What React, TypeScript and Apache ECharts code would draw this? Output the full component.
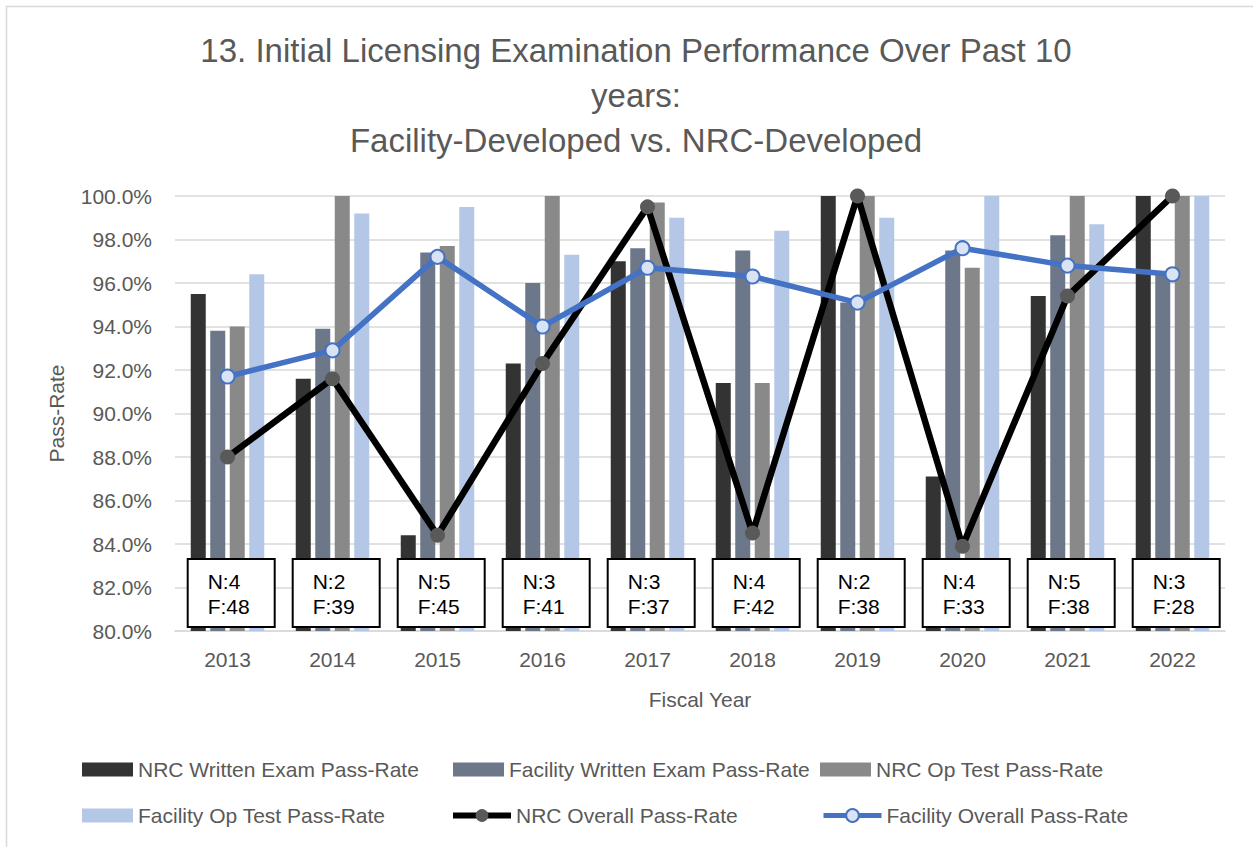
import React, { useEffect, useRef } from "react";
import * as echarts from "echarts";

const years = ["2013", "2014", "2015", "2016", "2017", "2018", "2019", "2020", "2021", "2022"];
const nrcWritten = [95.5, 91.6, 84.4, 92.3, 97.0, 91.4, 100, 87.1, 95.4, 100];
const facWritten = [93.8, 93.9, 97.4, 96.0, 97.6, 97.5, 95.1, 97.5, 98.2, 96.4];
const nrcOp = [94.0, 100, 97.7, 100, 99.7, 91.4, 100, 96.7, 100, 100];
const facOp = [96.4, 99.2, 99.5, 97.3, 99.0, 98.4, 99.0, 100, 98.7, 100];
const nrcOverall = [88.0, 91.6, 84.4, 92.3, 99.5, 84.5, 100, 83.9, 95.4, 100];
const facOverall = [91.7, 92.9, 97.2, 94.0, 96.7, 96.3, 95.1, 97.6, 96.8, 96.4];
const nrcCount = [4, 2, 5, 3, 3, 4, 2, 4, 5, 3];
const facCount = [48, 39, 45, 41, 37, 42, 38, 33, 38, 28];
const boxLevel = 81.75;

const seriesNames = [
  "NRC Written Exam Pass-Rate",
  "Facility Written Exam Pass-Rate",
  "NRC Op Test Pass-Rate",
  "Facility Op Test Pass-Rate",
  "NRC Overall Pass-Rate",
  "Facility Overall Pass-Rate",
];

const FONT = "Liberation Sans";
const TXT = "#595959";

export default function App() {
  const ref = useRef<HTMLDivElement>(null);
  useEffect(() => {
    if (!ref.current) return;
    const chart = echarts.init(ref.current, undefined, { renderer: "svg" });
    const legendText = { color: TXT, fontSize: 21, fontFamily: FONT };
    const legendPos = [
      { name: seriesNames[0], left: 77, top: 754, w: 51, icon: "rect", lw: 0 },
      { name: seriesNames[1], left: 448, top: 754, w: 51, icon: "rect", lw: 0 },
      { name: seriesNames[2], left: 815, top: 754, w: 51, icon: "rect", lw: 0 },
      { name: seriesNames[3], left: 77, top: 800, w: 51, icon: "rect", lw: 0 },
      { name: seriesNames[4], left: 445, top: 800, w: 58, icon: undefined, lw: 6 },
      { name: seriesNames[5], left: 816, top: 800, w: 58, icon: undefined, lw: 5 },
    ];
    const barColors = ["#333333", "#6c7789", "#898989", "#b4c7e7"];
    const barData = [nrcWritten, facWritten, nrcOp, facOp];
    const option: any = {
      animation: false,
      backgroundColor: "#ffffff",
      title: {
        text: "13. Initial Licensing Examination Performance Over Past 10\nyears:\nFacility-Developed vs. NRC-Developed",
        left: 631,
        top: 23,
        textAlign: "center",
        textStyle: {
          color: TXT,
          fontSize: 33,
          fontWeight: "normal",
          fontFamily: FONT,
          lineHeight: 45,
        },
      },
      graphic: [
        {
          type: "rect",
          shape: { x: 6.5, y: 6.5, width: 1300, height: 900 },
          style: { fill: "none", stroke: "#d9d9d9", lineWidth: 1.5 },
          silent: true,
        },
      ],
      legend: legendPos.map((l) => {
        const o: any = {
          data: [l.name],
          left: l.left,
          top: l.top,
          itemWidth: l.w,
          itemHeight: l.icon ? 14 : 16,
          itemGap: 0,
          textStyle: legendText,
        };
        if (l.icon) o.icon = l.icon;
        else o.lineStyle = { width: l.lw };
        return o;
      }),
      grid: { left: 175, right: 28, top: 196, bottom: 216 },
      xAxis: {
        type: "category",
        data: years,
        name: "Fiscal Year",
        nameLocation: "middle",
        nameGap: 58,
        nameTextStyle: { color: TXT, fontSize: 21, fontFamily: FONT, verticalAlign: "top" },
        axisLine: { show: true, lineStyle: { color: "#d9d9d9", width: 1.5 } },
        axisTick: { show: false },
        axisLabel: { color: TXT, fontSize: 21, fontFamily: FONT, margin: 18 },
      },
      yAxis: {
        type: "value",
        min: 80,
        max: 100,
        interval: 2,
        name: "Pass-Rate",
        nameLocation: "middle",
        nameGap: 108,
        nameRotate: 90,
        nameTextStyle: { color: TXT, fontSize: 21, fontFamily: FONT },
        axisLine: { show: false },
        axisTick: { show: false },
        splitLine: { lineStyle: { color: "#d9d9d9", width: 1.5 } },
        axisLabel: {
          color: TXT,
          fontSize: 21,
          fontFamily: FONT,
          margin: 23,
          formatter: (v: number) => v.toFixed(1) + "%",
        },
      },
      series: [
        ...barData.map((d, i) => ({
          name: seriesNames[i],
          type: "bar",
          data: d,
          barWidth: 15,
          barGap: "30%",
          itemStyle: { color: barColors[i] },
          emphasis: { disabled: true },
          z: 2,
        })),
        {
          name: seriesNames[4],
          type: "line",
          data: nrcOverall,
          symbol: "circle",
          symbolSize: 15,
          lineStyle: { color: "#000000", width: 6.5 },
          itemStyle: { color: "#595959", borderColor: "#595959", borderWidth: 0 },
          emphasis: { disabled: true },
          z: 3,
        },
        {
          name: seriesNames[5],
          type: "line",
          data: facOverall,
          symbol: "circle",
          symbolSize: 14,
          lineStyle: { color: "#4472c4", width: 5.5 },
          itemStyle: { color: "#dae3f3", borderColor: "#4472c4", borderWidth: 2 },
          emphasis: { disabled: true },
          z: 4,
        },
        {
          name: "counts",
          type: "scatter",
          data: years.map(() => boxLevel),
          symbolSize: 1,
          z: 10,
          silent: true,
          itemStyle: { color: "transparent", opacity: 1 },
          emphasis: { disabled: true },
          label: {
            show: true,
            position: "inside",
            offset: [3.7, 0],
            opacity: 1,
            formatter: (p: any) =>
              `{a|N:${nrcCount[p.dataIndex]}}\n{a|F:${facCount[p.dataIndex]}}`,
            backgroundColor: "#ffffff",
            borderColor: "#000000",
            borderWidth: 2,
            textBorderWidth: 0,
            textShadowBlur: 0,
            shadowBlur: 0,
            padding: [9, 4, 7, 19],
            rich: {
              a: {
                fontSize: 21,
                lineHeight: 25,
                fontFamily: FONT,
                color: "#000000",
                width: 62,
                align: "left",
                textBorderWidth: 0,
              },
            },
          },
        },
      ],
    };
    chart.setOption(option);
    return () => chart.dispose();
  }, []);
  return (
    <div
      ref={ref}
      style={{ position: "absolute", left: 0, top: 0, width: 1253, height: 847, background: "#fff" }}
    />
  );
}
